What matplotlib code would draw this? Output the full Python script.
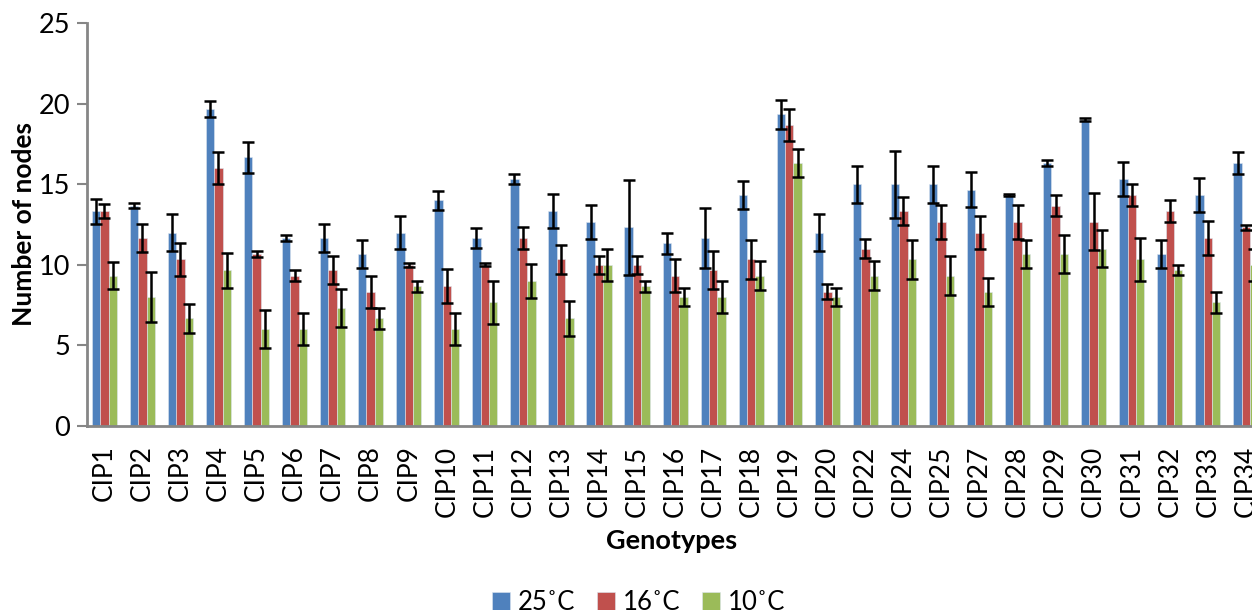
import matplotlib.pyplot as plt
import numpy as np

plt.rcParams["font.family"] = ["Lato", "DejaVu Sans"]

genotypes = ["CIP1", "CIP2", "CIP3", "CIP4", "CIP5", "CIP6", "CIP7", "CIP8", "CIP9",
             "CIP10", "CIP11", "CIP12", "CIP13", "CIP14", "CIP15", "CIP16", "CIP17",
             "CIP18", "CIP19", "CIP20", "CIP22", "CIP24", "CIP25", "CIP27", "CIP28",
             "CIP29", "CIP30", "CIP31", "CIP32", "CIP33", "CIP34"]

nodes_25 = [13.33, 13.67, 12.0, 19.67, 16.67, 11.67, 11.67, 10.67, 12.0, 14.0, 11.67,
            15.33, 13.33, 12.67, 12.33, 11.33, 11.67, 14.33, 19.33, 12.0, 15.0, 15.0,
            15.0, 14.67, 14.33, 16.33, 19.0, 15.33, 10.67, 14.33, 16.33]
err_25 = [0.77, 0.17, 1.17, 0.49, 0.96, 0.2, 0.88, 0.89, 1.0, 0.58, 0.6, 0.33, 1.05,
          1.06, 2.96, 0.65, 1.85, 0.85, 0.88, 1.17, 1.15, 2.08, 1.15, 1.06, 0.06, 0.19,
          0.1, 1.06, 0.88, 1.05, 0.68]

nodes_16 = [13.33, 11.67, 10.33, 16.0, 10.67, 9.33, 9.67, 8.33, 10.0, 8.67, 10.0,
            11.67, 10.33, 10.0, 10.0, 9.33, 9.67, 10.33, 18.67, 8.33, 11.0, 13.33,
            12.67, 12.0, 12.67, 13.67, 12.67, 14.33, 13.33, 11.67, 12.33]
err_16 = [0.43, 0.86, 1.03, 1.0, 0.2, 0.32, 0.89, 1.0, 0.11, 1.06, 0.1, 0.67, 0.89,
          0.57, 0.57, 1.03, 1.2, 1.19, 0.97, 0.45, 0.58, 0.88, 1.06, 1.0, 1.05, 0.66,
          1.77, 0.67, 0.66, 1.07, 0.17]

nodes_10 = [9.33, 8.0, 6.67, 9.67, 6.0, 6.0, 7.33, 6.67, 8.67, 6.0, 7.67, 9.0, 6.67,
            10.0, 8.67, 8.0, 8.0, 9.33, 16.33, 8.0, 9.33, 10.33, 9.33, 8.33, 10.67,
            10.67, 11.0, 10.33, 9.67, 7.67, 10.0]
err_10 = [0.86, 1.53, 0.89, 1.08, 1.17, 1.0, 1.2, 0.66, 0.33, 1.0, 1.33, 1.05, 1.06,
          1.0, 0.33, 0.58, 1.0, 0.88, 0.88, 0.58, 0.88, 1.2, 1.21, 0.87, 0.89, 1.2,
          1.16, 1.34, 0.33, 0.66, 1.0]

series = [
    ("25˚C", nodes_25, err_25, "#4F81BD"),
    ("16˚C", nodes_16, err_16, "#C0504D"),
    ("10˚C", nodes_10, err_10, "#9BBB59"),
]

fig = plt.figure(figsize=(12.52, 6.10), dpi=100)
ax = fig.add_axes([0.0695, 0.3016, 0.9305, 0.6607])

x = np.arange(len(genotypes))
width = 0.221
for i, (label, vals, errs, color) in enumerate(series):
    pos = x + (i - 1) * width
    ax.bar(pos, vals, width, color=color, edgecolor="#dde6f0", linewidth=0.4,
           label=label, zorder=2)
    ax.errorbar(pos, vals, yerr=errs, fmt="none", ecolor="black", elinewidth=1.8,
                capsize=4.6, capthick=1.8, zorder=3)

ax.set_xlim(-0.455, 30.16)
ax.set_ylim(0, 25)
ax.set_yticks(np.arange(0, 26, 5))
ax.set_xticks(x)
ax.set_xticklabels(genotypes, rotation=90, fontsize=19)
ax.tick_params(axis="x", length=0, pad=14)
ax.tick_params(axis="y", labelsize=19.5, length=7, width=1.5, color="#868686", pad=5)

for side in ["top", "right"]:
    ax.spines[side].set_visible(False)
for side in ["left", "bottom"]:
    ax.spines[side].set_color("#868686")
    ax.spines[side].set_linewidth(2)

fig.text(0.019, 0.632, "Number of nodes", rotation=90, ha="center", va="center",
         fontsize=19, fontweight="bold")
fig.text(0.5365, 0.113, "Genotypes", ha="center", va="center",
         fontsize=19.5, fontweight="bold")

fig.legend(loc="center", bbox_to_anchor=(0.51, 0.012), ncol=3, frameon=False,
           fontsize=18.5, handlelength=0.7, handleheight=0.7, handletextpad=0.3,
           columnspacing=0.85)

fig.savefig("out.png", dpi=100)
